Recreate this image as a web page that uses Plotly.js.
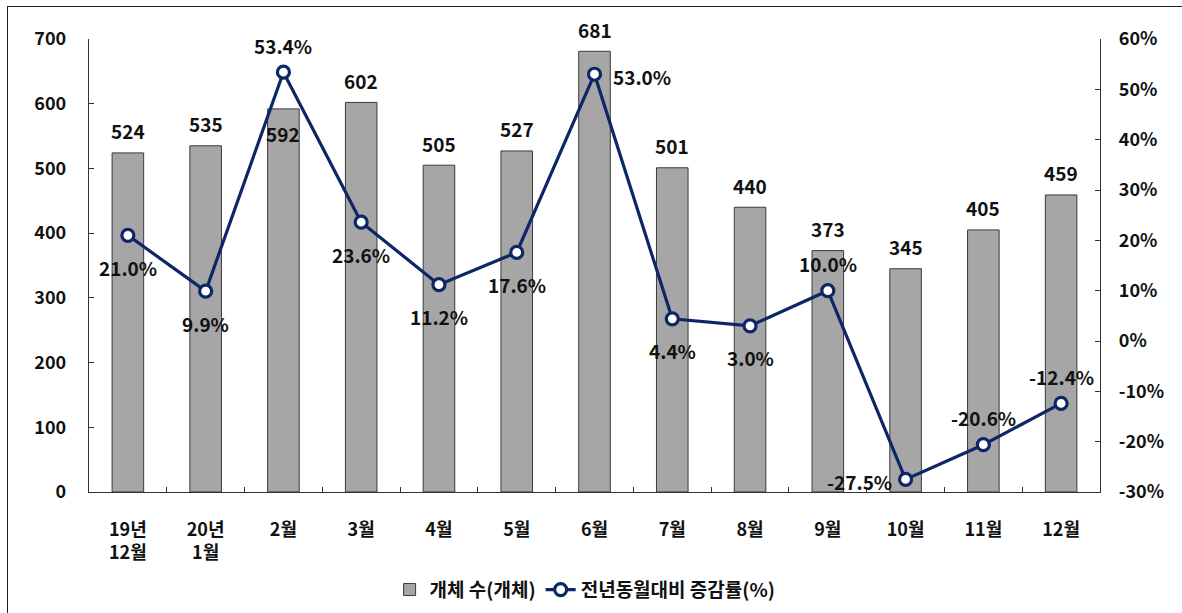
<!DOCTYPE html>
<html>
<head>
<meta charset="utf-8">
<script src="https://cdn.plot.ly/plotly-3.0.1.min.js"></script>
<style>
html,body{margin:0;padding:0;background:#fff;overflow:hidden;}
#frame{position:absolute;left:7px;top:6px;width:1300px;height:700px;border-top:1.5px solid #222;border-left:1.5px solid #222;pointer-events:none;z-index:10;}
#chart{width:1182px;height:613px;}
</style>
</head>
<body>
<div id="frame"></div>
<div id="chart"></div>
<script>
const categories = ["19년<br>12월", "20년<br>1월", "2월", "3월", "4월", "5월", "6월", "7월", "8월", "9월", "10월", "11월", "12월"];
const counts = [524, 535, 592, 602, 505, 527, 681, 501, 440, 373, 345, 405, 459];
const growth = [21.0, 9.9, 53.4, 23.6, 11.2, 17.6, 53.0, 4.4, 3.0, 10.0, -27.5, -20.6, -12.4];
const growthLabelPos = ["below", "below", "above", "below", "below", "below", "right", "below", "below", "above", "left", "above", "above"];
const countLabelPos = ["above", "above", "inside", "above", "above", "above", "above", "above", "above", "above", "above", "above", "above"];
const countTicks = [0, 100, 200, 300, 400, 500, 600, 700];
const pctTicks = [-30, -20, -10, 0, 10, 20, 30, 40, 50, 60];

const FONT = "'Noto Sans CJK KR', 'Noto Sans', sans-serif";
const NAVY = "#0d2766";

const bars = {
  type: "bar",
  name: "개체 수(개체)",
  x: categories,
  y: counts,
  marker: {color: "#a6a6a6", line: {color: "#3a3a3a", width: 1}},
  hoverinfo: "skip"
};
const line = {
  type: "scatter",
  mode: "lines+markers",
  name: "전년동월대비 증감률(%)",
  x: categories,
  y: growth,
  yaxis: "y2",
  line: {color: NAVY, width: 3.2},
  marker: {symbol: "circle", size: 12, color: "#ffffff", line: {color: NAVY, width: 3.2}},
  hoverinfo: "skip"
};

const annotations = [];
categories.forEach((c, i) => {
  annotations.push({
    x: c, y: counts[i], xref: "x", yref: "y", showarrow: false,
    text: String(counts[i]),
    yshift: countLabelPos[i] === "inside" ? -25 : 22,
    font: {family: FONT, size: 19, color: "#111", weight: 700}
  });
  const p = growthLabelPos[i];
  const a = {
    x: c, y: growth[i], xref: "x", yref: "y2", showarrow: false,
    text: growth[i].toFixed(1) + "%",
    font: {family: FONT, size: 19, color: "#111", weight: 700}
  };
  if (p === "below") a.yshift = -32;
  else if (p === "above") a.yshift = 27;
  else if (p === "right") { a.xanchor = "left"; a.xshift = 16; a.yshift = -2; }
  else if (p === "left") { a.xanchor = "right"; a.xshift = -12; a.yshift = -2; }
  annotations.push(a);
});

const tickFont = {family: FONT, size: 18, color: "#111", weight: 700};

const layout = {
  width: 1182, height: 613,
  margin: {l: 89, r: 82, t: 39, b: 121, autoexpand: false},
  paper_bgcolor: "#ffffff",
  plot_bgcolor: "#ffffff",
  bargap: 0.594,
  showlegend: true,
  legend: {
    orientation: "h", xref: "container", yref: "container",
    x: 0.495, xanchor: "center", y: 0.038, yanchor: "middle",
    font: {family: FONT, size: 19, color: "#111", weight: 700},
    itemwidth: 30, tracegroupgap: 0
  },
  xaxis: {
    type: "category",
    range: [-0.5, categories.length - 0.5],
    showline: true, linecolor: "#333", linewidth: 1.2,
    ticks: "inside", tickson: "boundaries", ticklen: 5, tickcolor: "#333",
    showgrid: false, zeroline: false, automargin: false,
    tickfont: tickFont, ticklabelstandoff: 21
  },
  yaxis: {
    range: [0, 700], tickvals: countTicks, ticktext: countTicks.map(String),
    showline: true, linecolor: "#333", linewidth: 1.2,
    ticks: "inside", ticklen: 5, tickcolor: "#333",
    showgrid: false, zeroline: false, automargin: false,
    tickfont: tickFont, ticklabelstandoff: 18
  },
  yaxis2: {
    overlaying: "y", side: "right",
    range: [-30, 60], tickvals: pctTicks, ticktext: pctTicks.map(v => v + "%"),
    showline: true, linecolor: "#333", linewidth: 1.2,
    ticks: "inside", ticklen: 5, tickcolor: "#333",
    showgrid: false, zeroline: false, automargin: false,
    tickfont: tickFont, ticklabelstandoff: 14
  },
  annotations: annotations
};

Plotly.newPlot("chart", [bars, line], layout, {displayModeBar: false, staticPlot: true});
</script>
</body>
</html>
